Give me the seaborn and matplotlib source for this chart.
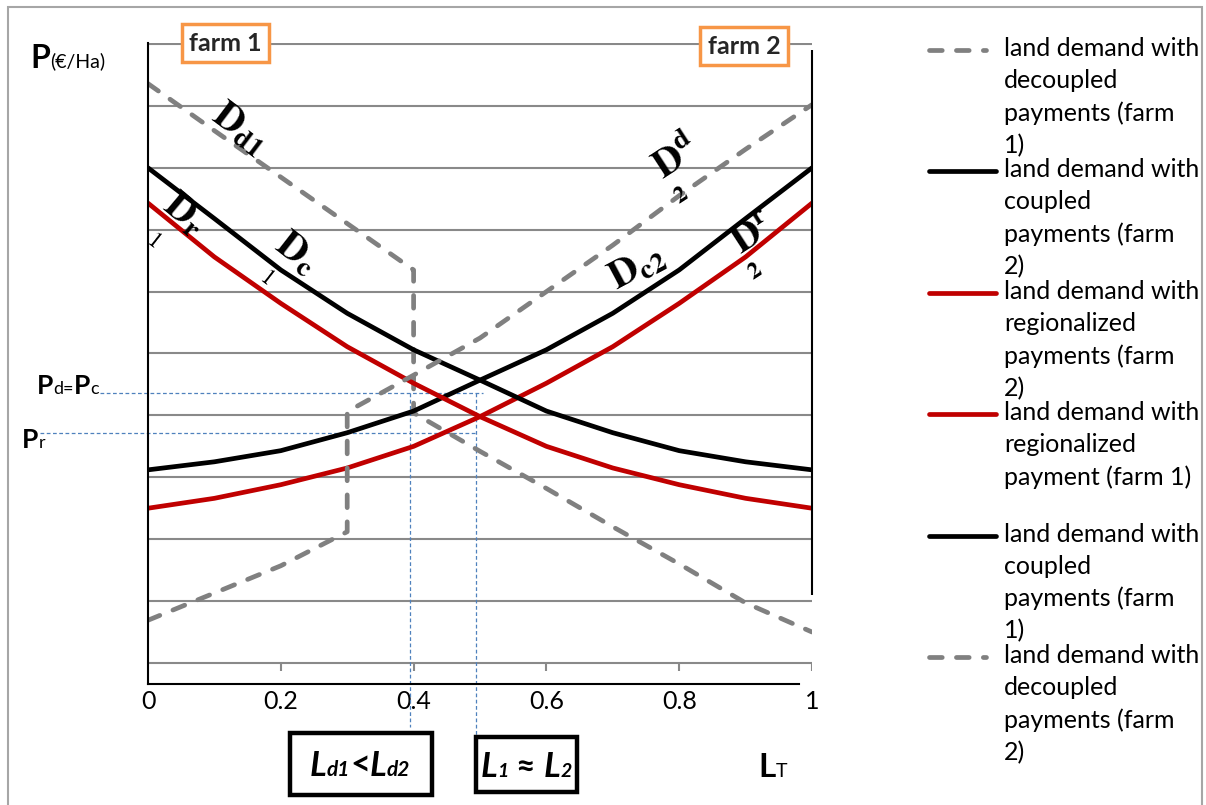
import matplotlib
matplotlib.use("Agg")
import matplotlib.pyplot as plt
import seaborn as sns
from matplotlib.patches import Rectangle
from matplotlib.offsetbox import TextArea, HPacker, AnnotationBbox

# land share (x) and rent levels (y, grid units)
land_share = [0.0, 0.1, 0.2, 0.3, 0.4, 0.5, 0.6, 0.7, 0.8, 0.9, 1.0]
coupled_farm1 = [8.0, 7.18, 6.35, 5.65, 5.06, 4.57, 4.07, 3.72, 3.43, 3.25, 3.12]
coupled_farm2 = [3.12, 3.25, 3.43, 3.72, 4.07, 4.57, 5.06, 5.65, 6.35, 7.18, 8.0]
regional_farm1 = [7.43, 6.56, 5.81, 5.11, 4.52, 3.98, 3.50, 3.15, 2.88, 2.66, 2.50]
regional_farm2 = [2.50, 2.66, 2.88, 3.15, 3.50, 3.98, 4.52, 5.11, 5.81, 6.56, 7.43]
decoupled_farm1_x = [0.0, 0.1, 0.2, 0.3, 0.4, 0.4, 0.5, 0.6, 0.7, 0.8, 0.9, 1.0]
decoupled_farm1 = [9.36, 8.6, 7.85, 7.1, 6.35, 4.04, 3.42, 2.82, 2.2, 1.6, 0.97, 0.5]
decoupled_farm2_x = [0.0, 0.1, 0.2, 0.3, 0.3, 0.4, 0.5, 0.6, 0.7, 0.8, 0.9, 1.0]
decoupled_farm2 = [0.69, 1.13, 1.57, 2.12, 4.06, 4.65, 5.25, 6.0, 6.75, 7.55, 8.3, 9.02]

x_ticks = [0, 0.2, 0.4, 0.6, 0.8, 1.0]
x_tick_labels = ["0", "0.2", "0.4", "0.6", "0.8", "1"]

# equilibrium guide values
P_DC = 4.36
P_R = 3.72
L_D1 = 0.395
L_EQ = 0.494

legend_labels = [
    "land demand with\ndecoupled\npayments (farm\n1)",
    "land demand with\ncoupled\npayments (farm\n2)",
    "land demand with\nregionalized\npayments (farm\n2)",
    "land demand with\nregionalized\npayment (farm 1)",
    "land demand with\ncoupled\npayments (farm\n1)",
    "land demand with\ndecoupled\npayments (farm\n2)",
]

GRAY, BLACK, RED, BLUE = "#808080", "#000000", "#C00000", "#4F81BD"
ORANGE = "#F79646"
DASH = (0, (2.7, 3.0))

sns.set_theme(style="white")
plt.rcParams["font.family"] = ["Lato", "DejaVu Sans"]
plt.rcParams["mathtext.fontset"] = "stix"

W, H = 1206, 805
fig = plt.figure(figsize=(W / 100, H / 100), dpi=100)
ax = fig.add_axes([148 / W, (H - 684) / H, 664 / W, 641.2 / H])

series = [
    (decoupled_farm1_x, decoupled_farm1, GRAY, DASH),
    (land_share, coupled_farm2, BLACK, "-"),
    (land_share, regional_farm2, RED, "-"),
    (land_share, regional_farm1, RED, "-"),
    (land_share, coupled_farm1, BLACK, "-"),
    (decoupled_farm2_x, decoupled_farm2, GRAY, DASH),
]
for xs, ys, color, ls in series:
    sns.lineplot(x=xs, y=ys, ax=ax, color=color, linestyle=ls, linewidth=3.4,
                 estimator=None, sort=False, dash_capstyle="round")

ax.set_xlim(0, 1)
ax.set_ylim(-0.34, 10.02)
ax.set_yticks(range(11))
ax.set_yticklabels([])
ax.grid(axis="y", color="#898989", lw=1.5)
ax.set_axisbelow(True)
ax.set_xticks(x_ticks)
ax.set_xticklabels(x_tick_labels, fontsize=18, color="black")
ax.tick_params(axis="both", length=0)
ax.tick_params(axis="x", pad=4)
for side in ["top", "right"]:
    ax.spines[side].set_visible(False)
for side in ["left", "bottom"]:
    ax.spines[side].set_color("black")
    ax.spines[side].set_linewidth(1.5)
ax.spines["bottom"].set_bounds(0, 0.98)

# short tick marks hanging from the zero gridline, and the farm 2 axis
ax.vlines(x_ticks[1:], -0.13, 0, color="#898989", lw=1.5)
ax.vlines(1, 1.1, 9.9, color="black", lw=1.5, clip_on=False)

# blue guide lines
guide = dict(color=BLUE, lw=0.9, linestyle=(0, (3, 2)), clip_on=False, zorder=1.5)
ax.plot([-0.072, 0.505], [P_DC, P_DC], **guide)
ax.plot([-0.163, 0.493], [P_R, P_R], **guide)
ax.plot([L_D1, L_D1], [P_DC, -1.03], **guide)
ax.plot([L_EQ, L_EQ], [P_DC, -1.21], **guide)

# curve labels
lab = dict(color="black", ha="center", va="center", rotation_mode="anchor")
ax.text(0.138, 8.64, r"$\mathbf{D_{d1}}$", fontsize=29, rotation=-37, **lab)
ax.text(0.055, 7.25, r"$\mathbf{D_{r}}$", fontsize=29, rotation=-40, **lab)
ax.text(0.009, 6.83, r"$\mathit{1}$", fontsize=17, rotation=-38, **lab)
ax.text(0.224, 6.62, r"$\mathbf{D_{c}}$", fontsize=29, rotation=-38, **lab)
ax.text(0.178, 6.24, r"$\mathit{1}$", fontsize=17, rotation=-38, **lab)
ax.text(0.795, 8.17, r"$\mathbf{D^{d}}$", fontsize=29, rotation=33, **lab)
ax.text(0.802, 7.56, r"$\mathbf{2}$", fontsize=17, rotation=33, **lab)
ax.text(0.736, 6.40, r"$\mathbf{D_{c2}}$", fontsize=29, rotation=28, **lab)
ax.text(0.911, 6.93, r"$\mathbf{D^{r}}$", fontsize=29, rotation=33, **lab)
ax.text(0.914, 6.33, r"$\mathbf{2}$", fontsize=17, rotation=33, **lab)


def rich(parts, x, y, align=(0, 0.5)):
    areas = []
    for s, size, weight, style in parts:
        areas.append(TextArea(s, textprops=dict(fontsize=size, fontweight=weight,
                                                fontstyle=style, color="black",
                                                family=["Lato", "DejaVu Sans"])))
    pack = HPacker(children=areas, align="baseline", pad=0, sep=0)
    ab = AnnotationBbox(pack, (x, H - y), xycoords="figure pixels",
                        box_alignment=align, frameon=False, pad=0)
    fig.add_artist(ab)


rich([("P", 23, "bold", "normal"), ("(€/Ha)", 14, "normal", "normal")], 30, 58)
rich([("P", 19, "bold", "normal"), ("d=", 13, "normal", "normal"),
      ("P", 19, "bold", "normal"), ("c", 13, "normal", "normal")], 37, 386)
rich([("P", 19, "bold", "normal"), ("r", 13, "normal", "normal")], 22, 440)
rich([("L", 24, "bold", "normal"), ("T", 14, "normal", "normal")], 758, 767)
rich([("L", 25, "bold", "italic"), ("d1", 15, "bold", "italic"),
      ("<", 25, "bold", "normal"), ("L", 25, "bold", "italic"),
      ("d2", 15, "bold", "italic")], 360, 766, align=(0.5, 0.5))
rich([("L", 25, "bold", "italic"), ("1", 14, "bold", "italic"),
      (" ≈ ", 24, "bold", "normal"), ("L", 25, "bold", "italic"),
      ("2", 14, "bold", "italic")], 526, 767, align=(0.5, 0.5))

for x0, y0, x1, y1 in [(290, 733, 432, 795), (476, 737, 577, 792)]:
    fig.patches.append(Rectangle((x0 / W, 1 - y1 / H), (x1 - x0) / W, (y1 - y0) / H,
                                 transform=fig.transFigure, fill=False,
                                 ec="black", lw=3.2))

box = dict(boxstyle="square,pad=0.3", fc="white", ec=ORANGE, lw=2.5)
fig.text(225.5 / W, 1 - 43.5 / H, "farm 1", ha="center", va="center",
         fontsize=18, fontweight="bold", bbox=box)
fig.text(744 / W, 1 - 46.5 / H, "farm 2", ha="center", va="center",
         fontsize=18, fontweight="bold", bbox=box)

# legend drawn in its own axes so entries keep Excel's fixed spacing
lax = fig.add_axes([900 / W, 0, 306 / W, 1])
lax.set_xlim(0, 306)
lax.set_ylim(H, 0)
lax.axis("off")
styles = [(GRAY, DASH, 88), (BLACK, "-", 98), (RED, "-", 98),
          (RED, "-", 98), (BLACK, "-", 98), (GRAY, DASH, 88)]
for i, (label, (color, ls, x_end)) in enumerate(zip(legend_labels, styles)):
    y = 50 + i * 121.4
    lax.plot([29, x_end - 2], [y, y], color=color, linestyle=ls, lw=3.4,
             dash_capstyle="round", solid_capstyle="round")
    lax.text(104, y - 13, label, va="top", ha="left", fontsize=18,
             linespacing=1.47, color="black")

fig.patches.append(Rectangle((8 / W, -0.01), (1202 - 8) / W, 1.01 - 7 / H,
                             transform=fig.transFigure, fill=False,
                             ec="#A6A6A6", lw=1.5))

fig.savefig("out.png", dpi=100)
